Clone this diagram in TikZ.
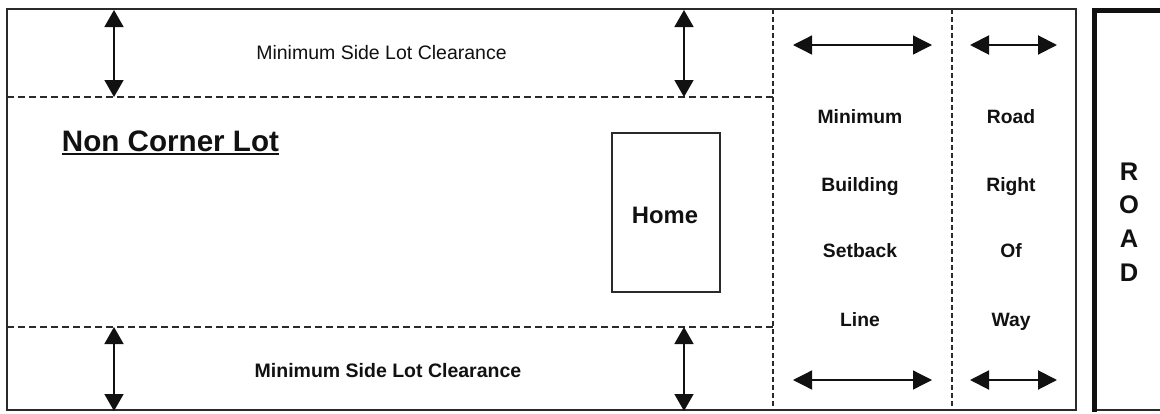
\documentclass[tikz,border=0pt]{standalone}
\usepackage{fontspec}
\setmainfont{Liberation Sans}
\usetikzlibrary{arrows.meta}
\definecolor{ln}{HTML}{2A2A2A}
\definecolor{tx}{HTML}{111111}
\tikzset{
  lotline/.style={draw=ln, line width=1.2pt},
  dashh/.style={draw=ln, line width=1.5pt, dash pattern=on 7pt off 4pt},
  dashv/.style={draw=ln, line width=1.5pt, dash pattern=on 5pt off 3pt},
  vtip/.tip={Triangle[width=19pt,length=17pt]},
  htip/.tip={Triangle[width=19pt,length=19pt]},
  varrow/.style={draw=tx, line width=1.5pt, vtip-vtip},
  harrow/.style={draw=tx, line width=1.3pt, htip-htip},
  rarrow/.style={draw=tx, line width=2pt, htip-htip},
  regtxt/.style={text=tx, font=\fontsize{19.5}{22}\selectfont, inner sep=0pt, anchor=base},
  boldtxt/.style={text=tx, font=\fontsize{19.5}{22}\selectfont\bfseries, inner sep=0pt, anchor=base},
  coltxt/.style={text=tx, font=\fontsize{19.3}{22}\selectfont\bfseries, inner sep=0pt, anchor=base},
  roadtxt/.style={text=tx, font=\fontsize{25.5}{28}\selectfont\bfseries, inner sep=0pt, anchor=base},
}
\begin{document}
\begin{tikzpicture}[x=1pt,y=-1pt]
\useasboundingbox (0,0) rectangle (1160,413);
\fill[white] (0,0) rectangle (1160,413);
% lot outline
\draw[lotline] (7,9) rectangle (1076,410);
% road box
\draw[draw=ln, line width=2pt] (1094,410) -- (1165,410);
\draw[draw=tx, line width=5pt] (1094,412) -- (1094,10) -- (1165,10);
% coordinates
\coordinate (tdL) at (7,97);
\coordinate (tdR) at (773,97);
\coordinate (bdL) at (7,327);
\coordinate (bdR) at (773,327);
\coordinate (v1T) at (773,9);
\coordinate (v1B) at (773,410);
\coordinate (v2T) at (952,9);
\coordinate (v2B) at (952,410);
% dashed lines
\draw[dashh] (tdL) -- (tdR);
\draw[dashh] (bdL) -- (bdR);
\draw[dashv] (v1T) -- (v1B);
\draw[dashv] (v2T) -- (v2B);
% vertical arrows
\coordinate (a1t) at (114,10);  \coordinate (a1b) at (114,97);
\coordinate (a2t) at (684,10);  \coordinate (a2b) at (684,97);
\coordinate (a3t) at (114,327); \coordinate (a3b) at (114,411);
\coordinate (a4t) at (684,327); \coordinate (a4b) at (684,411);
\draw[varrow] (a1t) -- (a1b);
\draw[varrow] (a2t) -- (a2b);
\draw[varrow] (a3t) -- (a3b);
\draw[varrow] (a4t) -- (a4b);
% horizontal arrows
\coordinate (h1l) at (793,45);  \coordinate (h1r) at (932,45);
\coordinate (h2l) at (793,380); \coordinate (h2r) at (932,380);
\coordinate (h3l) at (970,45);  \coordinate (h3r) at (1057,45);
\coordinate (h4l) at (970,380); \coordinate (h4r) at (1057,380);
\draw[harrow] (h1l) -- (h1r);
\draw[harrow] (h2l) -- (h2r);
\draw[rarrow] (h3l) -- (h3r);
\draw[rarrow] (h4l) -- (h4r);
% home
\node[draw=ln, line width=1.3pt, minimum width=108pt, minimum height=159pt, inner sep=0pt] (home) at (666,212.5) {};
\node[boldtxt, font=\fontsize{23.8}{26}\selectfont\bfseries] (homet) at (665,223.5) {Home};
% texts
\node[regtxt] (topt) at (381.5,59) {Minimum Side Lot Clearance};
\node[boldtxt] (bott) at (388,377) {Minimum Side Lot Clearance};
\node[text=tx, font=\fontsize{29.6}{32}\selectfont\bfseries, inner sep=0pt, anchor=base] (ncl) at (170.5,151) {Non Corner Lot};
\draw[draw=tx, line width=2.2pt] ([yshift=-3pt]ncl.base west) -- ([yshift=-3pt]ncl.base east);
% setback column
\node[coltxt] (c1) at (860,123.5) {Minimum};
\node[coltxt] (c2) at (860,191.5) {Building};
\node[coltxt] (c3) at (860,257.5) {Setback};
\node[coltxt] (c4) at (860,326.5) {Line};
% row column
\node[coltxt] (r1) at (1011,123.5) {Road};
\node[coltxt] (r2) at (1011,191.5) {Right};
\node[coltxt] (r3) at (1011,257.5) {Of};
\node[coltxt] (r4) at (1011,326.5) {Way};
% ROAD
\node[roadtxt] (R) at (1129,180) {R};
\node[roadtxt] (O) at (1129,213) {O};
\node[roadtxt] (A) at (1129,247) {A};
\node[roadtxt] (D) at (1129,281) {D};
\end{tikzpicture}
\end{document}
